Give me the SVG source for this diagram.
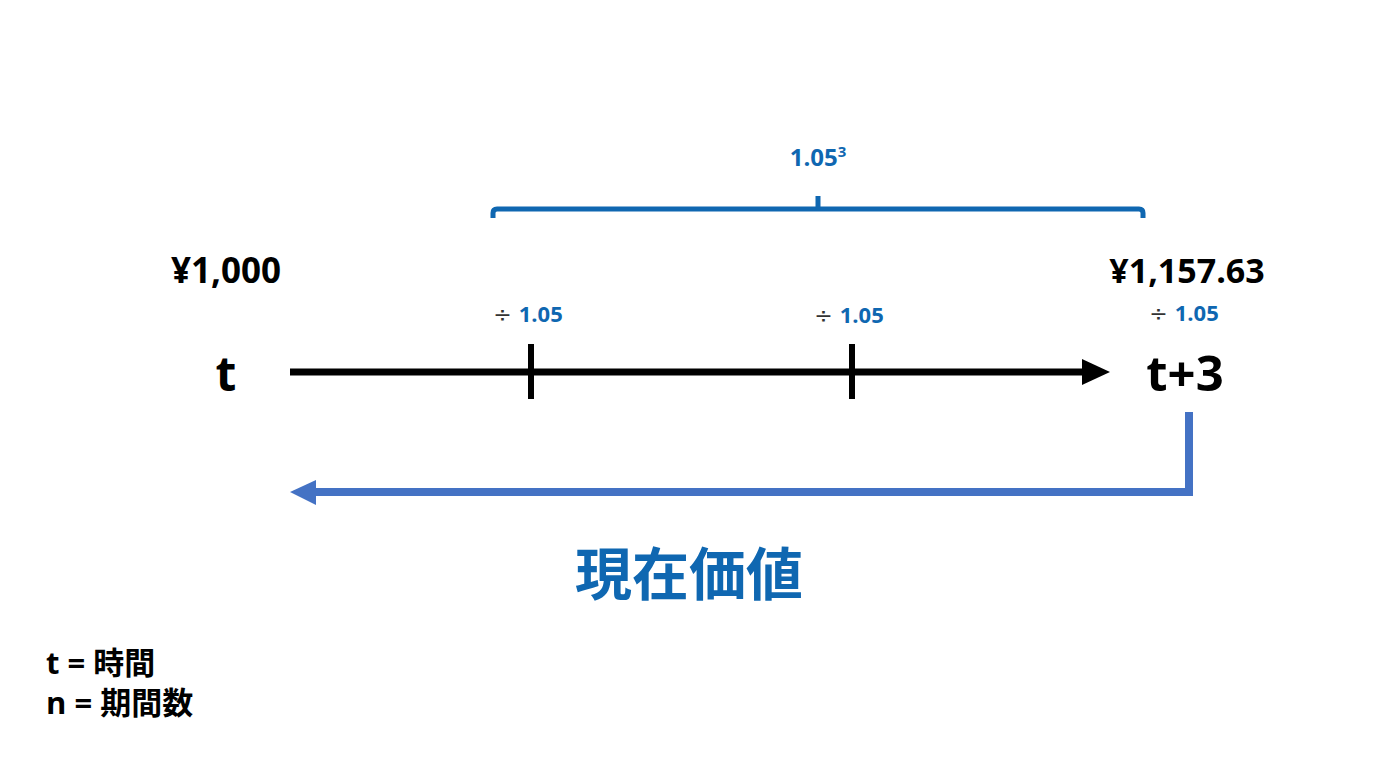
<svg xmlns="http://www.w3.org/2000/svg" width="1376" height="768" viewBox="0 0 1376 768">
<style>
text{font-family:"Open Sans","Noto Sans CJK JP",sans-serif;font-weight:bold}
.blk{fill:#000}
.blue{fill:#0F67B1}
.div{fill:#333;font-weight:normal;font-family:"DejaVu Sans",sans-serif}
</style>
<rect width="1376" height="768" fill="#fff"/>
<g id="bracket">
<path d="M493,218 V213 Q493,209 497,209 H1139 Q1143,209 1143,213 V218" fill="none" stroke="#0F67B1" stroke-width="5"/>
<line x1="818" y1="196" x2="818" y2="210" stroke="#0F67B1" stroke-width="5"/>
<text class="blue" x="818" y="166" font-size="24" text-anchor="middle">1.05<tspan font-size="15" dy="-9">3</tspan></text>
</g>
<g id="connectors">
<line x1="290" y1="372" x2="1086" y2="372" stroke="#000" stroke-width="7"/>
<path d="M1082,359 L1110,372 L1082,385 z" fill="#000"/>
<line x1="531" y1="344" x2="531" y2="399" stroke="#000" stroke-width="6"/>
<line x1="852" y1="344" x2="852" y2="399" stroke="#000" stroke-width="6"/>
<path d="M1189,412 V492 H312" fill="none" stroke="#4472C4" stroke-width="8"/>
<path d="M316,480 L290,492 L316,505 z" fill="#4472C4"/>
</g>
<g id="node-t"><text class="blk" x="226" y="391" font-size="48" text-anchor="middle">t</text></g>
<g id="node-t3"><text class="blk" x="1185" y="391" font-size="49" text-anchor="middle">t+3</text></g>
<g id="amt1"><text class="blk" x="226" y="283" font-size="35" text-anchor="middle">¥1,000</text></g>
<g id="amt2"><text class="blk" x="1187" y="283" font-size="34" text-anchor="middle">¥1,157.63</text></g>
<g id="d1"><text x="528" y="322" font-size="22" text-anchor="middle"><tspan class="div">÷ </tspan><tspan class="blue">1.05</tspan></text></g>
<g id="d2"><text x="849" y="323" font-size="22" text-anchor="middle"><tspan class="div">÷ </tspan><tspan class="blue">1.05</tspan></text></g>
<g id="d3"><text x="1184" y="321" font-size="22" text-anchor="middle"><tspan class="div">÷ </tspan><tspan class="blue">1.05</tspan></text></g>
<g id="pv"><text class="blue" x="689" y="595" font-size="57" text-anchor="middle">現在価値</text></g>
<g id="legend">
<text class="blk" x="46" y="674" font-size="31">t = 時間</text>
<text class="blk" x="46" y="714" font-size="31">n = 期間数</text>
</g>
</svg>
